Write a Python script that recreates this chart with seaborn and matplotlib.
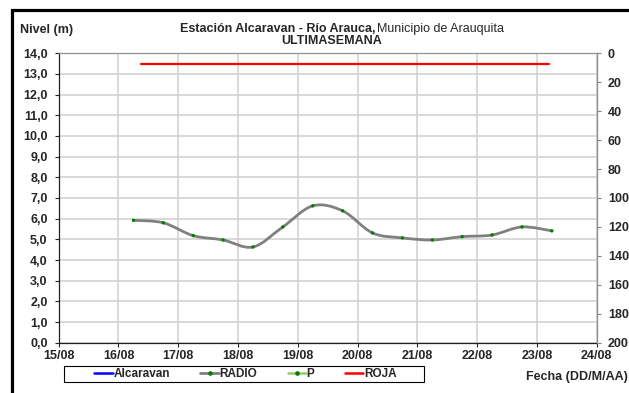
import matplotlib
matplotlib.use('Agg')
import matplotlib.pyplot as plt
import matplotlib.dates as mdates
from matplotlib.path import Path
from matplotlib.patches import PathPatch, Rectangle
from matplotlib.lines import Line2D
from matplotlib.ticker import FuncFormatter, MultipleLocator
import seaborn as sns
import pandas as pd
import numpy as np

# nivel RADIO cada 12 horas
fechas = ['2023-08-16 06:00', '2023-08-16 18:00', '2023-08-17 06:00', '2023-08-17 18:00',
          '2023-08-18 06:00', '2023-08-18 18:00', '2023-08-19 06:00', '2023-08-19 18:00',
          '2023-08-20 06:00', '2023-08-20 18:00', '2023-08-21 06:00', '2023-08-21 18:00',
          '2023-08-22 06:00', '2023-08-22 18:00', '2023-08-23 06:00']
radio = [5.92, 5.80, 5.18, 4.97, 4.63, 5.60, 6.62, 6.38, 5.31, 5.07, 4.97, 5.13, 5.21, 5.60, 5.41]

# umbral alerta roja
roja_fechas = ['2023-08-16 09:00', '2023-08-23 05:00']
roja = [13.5, 13.5]

x_ini, x_fin = '2023-08-15', '2023-08-24'
precip_ticks = list(range(0, 201, 20))

sns.set_style("white")
plt.rcParams['font.family'] = ['Liberation Sans', 'DejaVu Sans']
FS = 9

df = pd.DataFrame({'fecha': pd.to_datetime(fechas), 'nivel': radio})
df_roja = pd.DataFrame({'fecha': pd.to_datetime(roja_fechas), 'nivel': roja})

fig = plt.figure(figsize=(6.29, 3.93), dpi=100)
ax = fig.add_axes([0.0933, 0.128, 0.8553, 0.7364])

# grilla
ax.set_axisbelow(True)
ax.grid(True, color='#d0d0d0', lw=1.1)

# linea suavizada tipo Excel (bezier catmull-rom)
xs = mdates.date2num(df['fecha'])
ys = df['nivel'].values
pts = np.column_stack([xs, ys])
verts = [pts[0]]
codes = [Path.MOVETO]
n = len(pts)
for i in range(n - 1):
    p0 = pts[max(i - 1, 0)]
    p1 = pts[i]
    p2 = pts[i + 1]
    p3 = pts[min(i + 2, n - 1)]
    c1 = p1 + (p2 - p0) / 6.0
    c2 = p2 - (p3 - p1) / 6.0
    verts += [c1, c2, p2]
    codes += [Path.CURVE4] * 3
ax.add_patch(PathPatch(Path(verts, codes), facecolor='none', edgecolor='#808080', lw=2.0, zorder=3))

sns.scatterplot(data=df, x='fecha', y='nivel', ax=ax, color='#008000', s=6,
                edgecolor='none', zorder=4, legend=False)
sns.lineplot(data=df_roja, x='fecha', y='nivel', ax=ax, color='#ff0000', lw=1.6,
             zorder=3, legend=False)

ax.set_xlim(pd.Timestamp(x_ini), pd.Timestamp(x_fin))
ax.set_ylim(0, 14)
ax.yaxis.set_major_locator(MultipleLocator(1))
ax.yaxis.set_major_formatter(FuncFormatter(lambda v, p: f'{v:.1f}'.replace('.', ',')))
ax.xaxis.set_major_locator(mdates.DayLocator())
ax.xaxis.set_major_formatter(mdates.DateFormatter('%d/%m'))
ax.set_xlabel('')
ax.set_ylabel('')
ax.tick_params(axis='y', direction='out', length=3, width=0.8, pad=5, labelsize=FS, left=True)
ax.tick_params(axis='x', direction='out', length=3, width=0.8, pad=2, labelsize=FS, bottom=True)
for lab in ax.get_xticklabels() + ax.get_yticklabels():
    lab.set_fontweight('bold')

for s in ['left', 'bottom']:
    ax.spines[s].set_color('#202020')
    ax.spines[s].set_linewidth(0.9)
for s in ['top', 'right']:
    ax.spines[s].set_color('#909090')
    ax.spines[s].set_linewidth(0.9)

# eje de precipitacion invertido
ax2 = ax.twinx()
ax2.set_ylim(200, 0)
ax2.set_yticks(precip_ticks)
ax2.set_yticklabels([str(t) for t in precip_ticks], fontweight='bold')
ax2.tick_params(axis='y', direction='out', length=3, width=0.8, pad=5, labelsize=FS, right=True,
                color='#808080')
ax2.grid(False)
for s in ax2.spines.values():
    s.set_visible(False)
ax2.spines['right'].set_visible(True)
ax2.spines['right'].set_color('#909090')

# leyenda
handles = [
    Line2D([], [], color='#0000ff', lw=1.8),
    Line2D([], [], color='#808080', lw=2.0, marker='o', markersize=2.3,
           markerfacecolor='#008000', markeredgecolor='#008000'),
    Line2D([], [], color='#99cc66', lw=1.8, marker='o', markersize=2.3,
           markerfacecolor='#008000', markeredgecolor='#008000'),
    Line2D([], [], color='#ff0000', lw=1.8),
]
fig.legend(handles, ['Alcaravan', 'RADIO', 'P', 'ROJA'], loc='center',
           bbox_to_anchor=(245.5 / 629, 1 - 374 / 393), ncol=4, frameon=False,
           handlelength=1.55, handletextpad=0.05, columnspacing=2.6,
           borderpad=0.0, prop={'weight': 'bold', 'size': 8.5})
fig.add_artist(Rectangle((64 / 629, 1 - 382 / 393), 360 / 629, 16 / 393, transform=fig.transFigure,
                         fill=False, edgecolor='black', lw=0.8))

# textos
fig.text(20 / 629, 1 - 30 / 393, 'Nivel (m)', fontweight='bold', fontsize=FS, va='center', ha='left')
fig.text(375 / 629, 1 - 29 / 393, 'Estación Alcaravan - Río Arauca,', fontweight='bold',
         fontsize=FS, va='center', ha='right')
fig.text(377 / 629, 1 - 29 / 393, 'Municipio de Arauquita', fontsize=FS, va='center', ha='left')
fig.text(332 / 629, 1 - 41 / 393, 'ULTIMASEMANA', fontweight='bold', fontsize=FS,
         va='center', ha='center')
fig.text(0.998, 1 - 377 / 393, 'Fecha (DD/M/AA)', fontweight='bold', fontsize=FS,
         va='center', ha='right')

# marco negro
fig.add_artist(Rectangle((11.5 / 629, -0.5), 2.0, 0.5 + (1 - 9.5 / 393), transform=fig.transFigure,
                         fill=False, edgecolor='black', lw=2.3, clip_on=False))

fig.savefig('out.png', dpi=100)
